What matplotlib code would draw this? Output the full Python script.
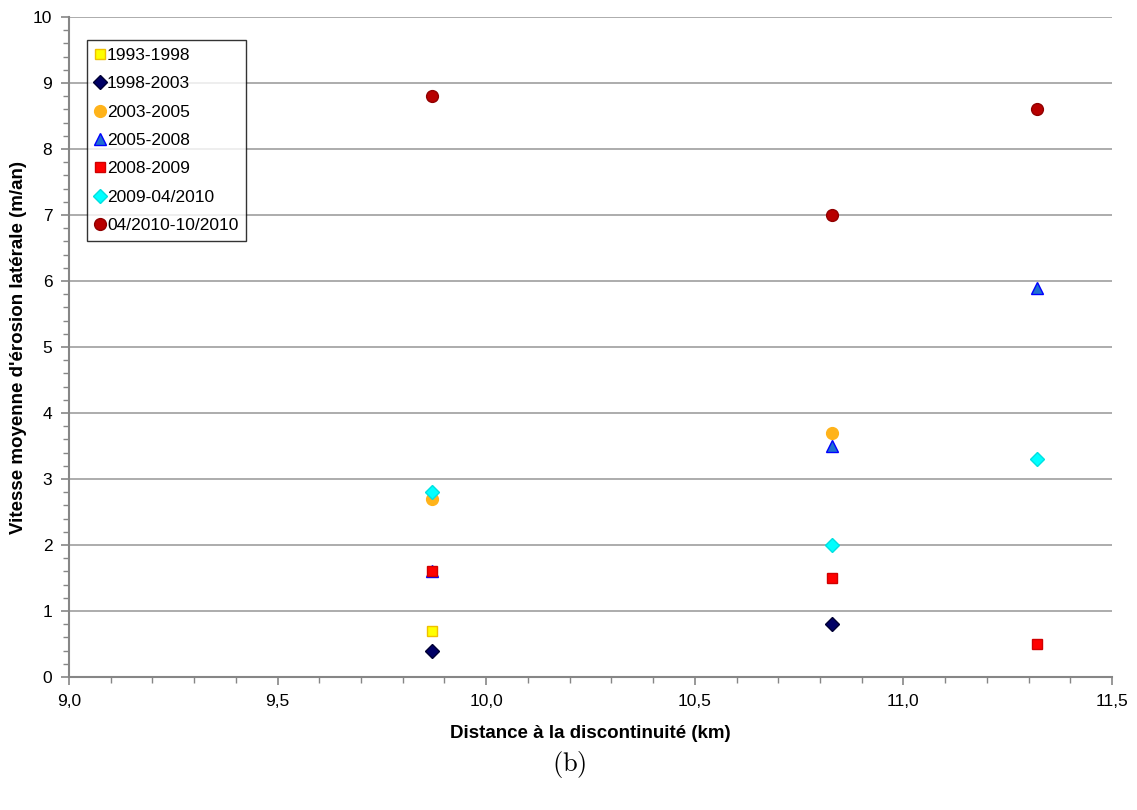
import numpy as np
import matplotlib
matplotlib.use('Agg')
import matplotlib.pyplot as plt
from matplotlib.ticker import MultipleLocator, FuncFormatter

plt.rcParams['font.family'] = ['Liberation Sans', 'DejaVu Sans']
plt.rcParams['mathtext.fontset'] = 'cm'

# distances (km) of the three sites
x_sites = [9.87, 10.83, 11.32]

periods = ['1993-1998', '1998-2003', '2003-2005', '2005-2008',
           '2008-2009', '2009-04/2010', '04/2010-10/2010']

# erosion rates (m/an), None where no point
v_1993_1998 = [0.7, None, None]
v_1998_2003 = [0.4, 0.8, None]
v_2003_2005 = [2.7, 3.7, None]
v_2005_2008 = [1.6, 3.5, 5.9]
v_2008_2009 = [1.6, 1.5, 0.5]
v_2009_2010 = [2.8, 2.0, 3.3]
v_2010_2010 = [8.8, 7.0, 8.6]

series = [v_1993_1998, v_1998_2003, v_2003_2005, v_2005_2008,
          v_2008_2009, v_2009_2010, v_2010_2010]

#marker styles, excel look
styles = [
  dict(marker='s', color='#ffff00', mec='#f0c000', ms=7.5),
  dict(marker='D', color='#000066', mec='#000033', ms=7),
  dict(marker='o', color='#ffb31a', mec='#ffb31a', ms=8.5),
  dict(marker='^', color='#1f6fd0', mec='#0000ff', ms=9),
  dict(marker='s', color='#ff0000', mec='#d00000', ms=7.5),
  dict(marker='D', color='#00ffff', mec='#00e0e0', ms=7),
  dict(marker='o', color='#b80000', mec='#900000', ms=8.5),
]

fig = plt.figure(figsize=(11.37, 8.1), dpi=100)
ax = fig.add_axes([0.0607, 0.1642, 0.9173, 0.8148])

for name, vals, st in zip(periods, series, styles):
  xs = [x for x, v in zip(x_sites, vals) if v is not None]
  ys = [v for v in vals if v is not None]
  ax.plot(xs, ys, linestyle='none', marker=st['marker'], markerfacecolor=st['color'],
          markeredgecolor=st['mec'], markersize=st['ms'], markeredgewidth=1,
          label=name, zorder=3, clip_on=False)

ax.set_xlim(9.0, 11.5)
ax.set_ylim(0, 10)
ax.xaxis.set_major_locator(MultipleLocator(0.5))
ax.xaxis.set_minor_locator(MultipleLocator(0.1))
ax.yaxis.set_major_locator(MultipleLocator(1))
ax.yaxis.set_minor_locator(MultipleLocator(0.2))
ax.xaxis.set_major_formatter(FuncFormatter(lambda v, p: ('%.1f' % v).replace('.', ',')))
ax.yaxis.set_major_formatter(FuncFormatter(lambda v, p: '%d' % v))

ax.grid(axis='y', which='major', color='#a6a6a6', linewidth=1.3, zorder=0)
ax.set_axisbelow(True)

for s in ['top', 'right']:
  ax.spines[s].set_visible(False)
for s in ['left', 'bottom']:
  ax.spines[s].set_color('#868686')
  ax.spines[s].set_linewidth(1.5)

ax.tick_params(which='both', direction='out', color='#868686', labelsize=12.5, labelcolor='black')
ax.tick_params(which='major', length=6, width=1.2, pad=6)
ax.tick_params(which='minor', length=4, width=1)

ax.set_xlabel('Distance à la discontinuité (km)', fontsize=13.5, fontweight='bold', labelpad=12)
ax.set_ylabel("Vitesse moyenne d'érosion latérale (m/an)", fontsize=13.5, fontweight='bold', labelpad=4)

leg = ax.legend(loc='upper left', bbox_to_anchor=(0.0173, 0.965), fontsize=12.5,
                handlelength=0.6, handletextpad=0.1, borderpad=0.45, labelspacing=0.76,
                frameon=True, fancybox=False, edgecolor='black', borderaxespad=0)
leg.get_frame().set_linewidth(1)

fig.text(0.501, 0.0556, r'$\mathrm{(b)}$', ha='center', va='center', fontsize=19)

plt.savefig('out.png', dpi=100)
